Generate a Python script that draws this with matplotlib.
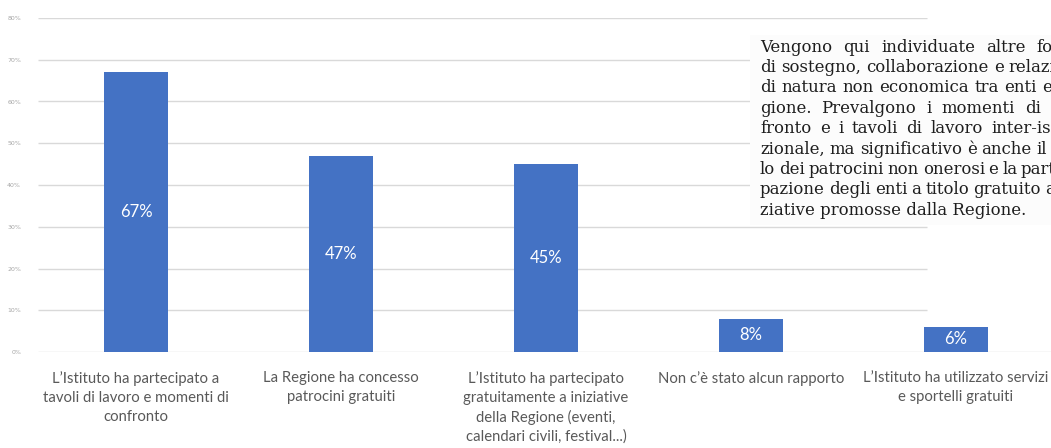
import matplotlib
matplotlib.use("Agg")
import matplotlib.pyplot as plt
from matplotlib.patches import Rectangle

# --- data ---
categories = [
    "L’Istituto ha partecipato a\ntavoli di lavoro e momenti di\nconfronto",
    "La Regione ha concesso\npatrocini gratuiti",
    "L’Istituto ha partecipato\ngratuitamente a iniziative\ndella Regione (eventi,\ncalendari civili, festival...)",
    "Non c’è stato alcun rapporto",
    "L’Istituto ha utilizzato servizi\ne sportelli gratuiti",
]
values = [0.67, 0.47, 0.45, 0.08, 0.06]
value_labels = ["67%", "47%", "45%", "8%", "6%"]
y_ticks = [0.0, 0.1, 0.2, 0.3, 0.4, 0.5, 0.6, 0.7, 0.8]
y_tick_labels = ["0%", "10%", "20%", "30%", "40%", "50%", "60%", "70%", "80%"]

note_lines = [
    "Vengono qui individuate altre forme",
    "di sostegno, collaborazione e relazione",
    "di natura non economica tra enti e Re-",
    "gione. Prevalgono i momenti di con-",
    "fronto e i tavoli di lavoro inter-istitu-",
    "zionale, ma significativo è anche il ruo-",
    "lo dei patrocini non onerosi e la parteci-",
    "pazione degli enti a titolo gratuito a ini-",
    "ziative promosse dalla Regione.",
]

W, H, DPI = 1051, 448, 100
BAR_COLOR = "#4472C4"
GRID_COLOR = "#d9d9d9"
LABEL_COLOR = "#595959"

fig = plt.figure(figsize=(W / DPI, H / DPI), dpi=DPI)
fig.patch.set_facecolor("white")

# plot area: x from -0.5..4.5 spans 33.5px..1058.5px, y 0..0.8 spans 352px..18px
ax = fig.add_axes([33.5 / W, (H - 352) / H, 1025 / W, (352 - 18) / H])
ax.set_xlim(-0.5, 4.5)
ax.set_ylim(0, 0.8)
for s in ax.spines.values():
    s.set_visible(False)

x = list(range(len(categories)))

# gridlines stop short of the last bar like in the source screenshot
ax.hlines(y_ticks[1:], -0.48, 3.86, color=GRID_COLOR, linewidth=1, zorder=0)
ax.hlines([0], -0.48, 4.5, color=GRID_COLOR, linewidth=1, zorder=0)

bars = ax.bar(x, values, width=0.31, color=BAR_COLOR, zorder=2)
for b, lab in zip(bars, value_labels):
    ax.text(b.get_x() + b.get_width() / 2, b.get_height() / 2, lab,
            ha="center", va="center", color="white", fontsize=12,
            family="Lato", zorder=3)

ax.set_yticks(y_ticks)
ax.set_yticklabels(y_tick_labels, fontsize=4.5, color="#a6a6a6")
ax.tick_params(axis="y", length=0, pad=9)

ax.set_xticks(x)
ax.set_xticklabels(categories, fontsize=10.7, color=LABEL_COLOR,
                   family="Lato", linespacing=1.42)
ax.tick_params(axis="x", length=0, pad=14)

# text box over the top-right corner
fig.add_artist(Rectangle((750 / W, (H - 225) / H), 0.3, 190 / H,
                         transform=fig.transFigure, facecolor="#fcfcfc",
                         edgecolor="none", zorder=5))

renderer = fig.canvas.get_renderer()
left_px, right_px = 760, 1086
line_y0, line_step = 47, 20.4
note_kw = dict(fontsize=11.9, family="DejaVu Serif", color="#1e1e1e",
               va="center", ha="left", zorder=6)

for i, line in enumerate(note_lines):
    ypos = (H - (line_y0 + i * line_step)) / H
    words = line.split(" ")
    if i == len(note_lines) - 1 or len(words) == 1:
        fig.text(left_px / W, ypos, line, **note_kw)
        continue
    widths = []
    for w in words:
        t = fig.text(0, 0, w, **note_kw)
        widths.append(t.get_window_extent(renderer).width)
        t.remove()
    gap = (right_px - left_px - sum(widths)) / (len(words) - 1)
    gap = max(gap, 2.0)
    xp = left_px
    for w, wd in zip(words, widths):
        fig.text(xp / W, ypos, w, **note_kw)
        xp += wd + gap

fig.savefig("out.png", dpi=DPI)
